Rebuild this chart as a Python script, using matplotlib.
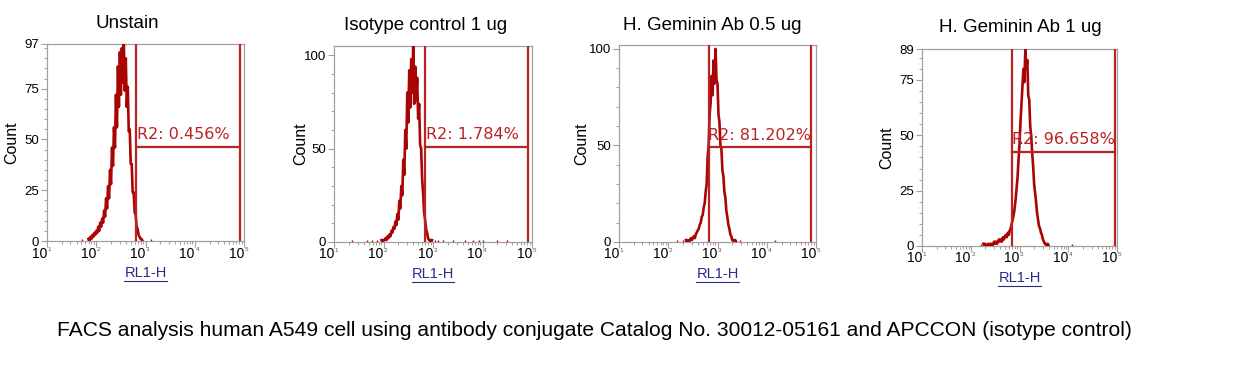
import numpy as np
import matplotlib as mpl
mpl.use('Agg')
import matplotlib.pyplot as plt
from matplotlib.lines import Line2D
from matplotlib.ticker import FixedLocator, LogLocator, NullFormatter


hist_red = '#aa0505'
gate_red = [185/255, 35/255, 35/255]
axis_grey = '#a0a0a0'
label_blue = '#2a2a8a'

plt.rcParams['font.family'] = ['Liberation Sans', 'DejaVu Sans']

titles = ['Unstain', 'Isotype control 1 ug', 'H. Geminin Ab 0.5 ug', 'H. Geminin Ab 1 ug']
caption = ('FACS analysis human A549 cell using antibody conjugate Catalog No. '
           '30012-05161 and APCCON (isotype control)')

# channels are 0.02 decade wide, first channel in log10 units
log_step = 0.02
unstain_start = 1.84
unstain_counts = [1, 0, 2, 1, 3, 2, 4, 3, 5, 4, 7, 5, 9, 7, 11, 9, 15, 12, 21, 16,
                  27, 21, 35, 28, 46, 37, 56, 46, 72, 56, 86, 66, 93, 72, 95, 78, 97, 74, 90, 66,
                  76, 54, 55, 38, 38, 24, 24, 14, 13, 7, 6, 3, 2, 1, 1, 0]
isotype_start = 1.96
isotype_counts = [1, 0, 1, 1, 2, 1, 3, 2, 4, 3, 6, 5, 8, 7, 11, 9, 15, 12, 22, 18,
                  30, 25, 44, 36, 60, 50, 80, 64, 92, 72, 98, 80, 105, 74, 94, 76, 88, 66, 74, 52,
                  50, 34, 26, 16, 12, 7, 5, 2, 1, 1, 0, 1]
gem05_start = 2.36
gem05_counts = [1, 0, 1, 0, 1, 2, 1, 2, 3, 2, 4, 5, 6, 7, 9, 10, 13, 14, 18, 20,
                26, 30, 44, 50, 66, 72, 86, 76, 94, 82, 100, 84, 82, 66, 62, 50, 48, 37, 34, 26,
                23, 16, 13, 9, 7, 4, 3, 1, 1, 0, 1, 0]
gem1_start = 2.26
gem1_counts = [1, 0, 1, 0, 0, 1, 0, 1, 1, 0, 1, 2, 1, 2, 1, 2, 3, 2, 3, 2,
               4, 3, 4, 5, 4, 6, 5, 7, 8, 10, 12, 14, 17, 21, 26, 31, 39, 46, 56, 64,
               72, 80, 74, 89, 80, 84, 68, 66, 54, 50, 42, 36, 28, 24, 20, 15, 12, 9, 8, 6,
               5, 3, 2, 1, 1, 0, 1, 0]

hist_starts = [unstain_start, isotype_start, gem05_start, gem1_start]
hist_counts = [unstain_counts, isotype_counts, gem05_counts, gem1_counts]

# single events away from the main peak (log10 position)
stray_events = [
    [1.72, 3.11],
    [1.36, 1.66, 1.76, 1.87, 3.04, 3.11, 3.21, 3.41, 3.65, 3.81, 3.92, 4.02, 4.29, 4.49],
    [2.17, 2.30, 3.46, 4.17],
    [2.20, 4.07],
]

y_max = [97, 105, 102, 89]
y_major = [[0, 25, 50, 75, 97], [0, 50, 100], [0, 50, 100], [0, 25, 50, 75, 89]]
y_minor_step = [5, 10, 10, 5]
decades = [1, 2, 3, 4, 5]

# R2 gate: log10 limits, count level and percent label
gate_lo = [2.81, 2.84, 2.83, 2.85]
gate_hi = [4.92, 4.92, 4.90, 4.96]
gate_level = [46.3, 51, 49, 42.5]
gate_pct = ['0.456', '1.784', '81.202', '96.658']

# layout in pixels of the 1233x370 figure
W, H = 1233, 370
axes_px = [(47, 44, 197, 197), (334, 46, 198, 196), (619, 45, 197, 197), (922, 49, 195, 197)]
title_px = [(127, 23), (426, 25), (712, 25), (1020, 28)]
count_px = [34, 32, 36, 34]   # "Count" centre, left of the axes
gate_ha = ['left', 'left', 'right', 'right']


def style_axes(ax, i):
    w, h = axes_px[i][2], axes_px[i][3]
    ax.set_xscale('log')
    ax.set_xlim(10, 1e5)
    ax.set_ylim(0, y_max[i])
    for s in ax.spines.values():
        s.set_color(axis_grey)
        s.set_linewidth(0.9)
    ax.xaxis.set_major_locator(LogLocator(base=10, numticks=10))
    ax.xaxis.set_minor_locator(LogLocator(base=10, subs=np.arange(2, 10), numticks=10))
    ax.xaxis.set_minor_formatter(NullFormatter())
    ax.set_xticklabels([])
    ax.yaxis.set_major_locator(FixedLocator(y_major[i]))
    ax.yaxis.set_minor_locator(FixedLocator(np.arange(0, y_max[i], y_minor_step[i])))
    ax.tick_params(which='major', length=4, width=0.8, color=axis_grey,
                   labelsize=9.5, pad=1.5)
    ax.tick_params(which='minor', length=2.5, width=0.7, color=axis_grey)
    ax.set_ylabel('Count', fontsize=11.5)
    ax.yaxis.set_label_coords(-(count_px[i] - 6.5) / w, 0.5)

    # decade labels: "10" left of the tick, tiny exponent right of it
    tr = ax.get_xaxis_transform()
    for e in decades:
        ax.text(10 ** e, -12.5 / h, '10', transform=tr, ha='right', va='center',
                fontsize=10)
        ax.text(10 ** e * 1.03, -8.5 / h, str(e), transform=tr, ha='left', va='center',
                fontsize=4.5, color='#555555')


def plot_panel(fig, i):
    x0, y0, w, h = axes_px[i]
    ax = fig.add_axes([x0 / W, 1 - (y0 + h) / H, w / W, h / H])
    style_axes(ax, i)

    counts = np.array(hist_counts[i])
    xs = 10 ** (hist_starts[i] + log_step * np.arange(len(counts)))
    ax.plot(xs, counts, color=hist_red, lw=1.9, zorder=3)
    ax.vlines(10 ** np.array(stray_events[i]), 0, 1, color=hist_red, lw=1.0, zorder=3)

    lo, hi, lev = 10 ** gate_lo[i], 10 ** gate_hi[i], gate_level[i]
    ax.axvline(lo, color=gate_red, lw=1.6, zorder=4)
    ax.axvline(hi, color=gate_red, lw=1.6, zorder=4)
    ax.plot([lo, hi], [lev, lev], color=gate_red, lw=1.6, zorder=4)
    tx = lo * 1.05 if gate_ha[i] == 'left' else hi
    ax.annotate('R2: ' + gate_pct[i] + '%', (tx, lev), xytext=(0, 3.5),
                textcoords='offset points', ha=gate_ha[i], va='bottom',
                color=gate_red, fontsize=11.5, family='DejaVu Sans', zorder=5)

    tx, ty = title_px[i]
    fig.text(tx / W, 1 - ty / H, titles[i], ha='center', va='center', fontsize=13.5)

    xl = ax.text(0.5, -32 / h, 'RL1-H', transform=ax.transAxes, ha='center',
                 va='center', color=label_blue, fontsize=10.5)
    return xl


if __name__ == '__main__':
    fig = plt.figure(figsize=(W / 100, H / 100), dpi=100)
    labels = [plot_panel(fig, i) for i in range(4)]
    fig.text(57 / W, 1 - 330 / H, caption, ha='left', va='center', fontsize=15.1)

    # underline the axis labels
    fig.canvas.draw()
    for t in labels:
        bb = t.get_window_extent()
        fig.add_artist(Line2D([bb.x0 / W, bb.x1 / W], [(bb.y0 - 1) / H] * 2,
                              transform=fig.transFigure, color=label_blue, lw=0.8))

    fig.savefig('out.png', dpi=100)
    plt.close()
